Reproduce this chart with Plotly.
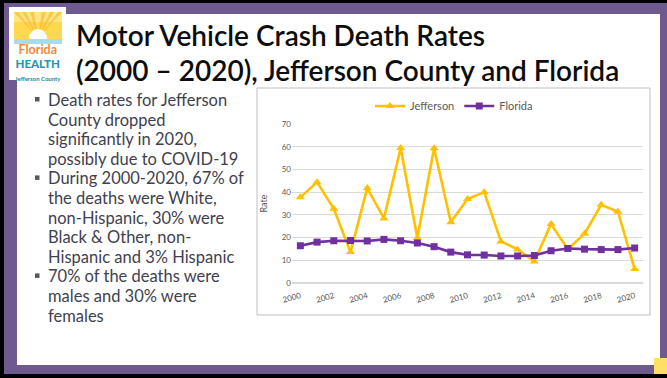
import plotly.graph_objects as go

years = list(range(2000, 2021))
jefferson = [37.7, 44.4, 32.7, 13.6, 41.8, 28.4, 59.4, 19.8, 59.3, 26.8, 37.0, 40.0,
             18.3, 14.8, 9.5, 26.0, 14.9, 21.7, 34.4, 31.4, 6.2]
florida = [16.4, 18.0, 18.6, 18.7, 18.5, 19.2, 18.6, 17.6, 16.0, 13.6, 12.4, 12.3,
           11.9, 11.9, 12.1, 14.2, 15.2, 14.9, 14.7, 14.7, 15.4]

title_lines = ["Motor Vehicle Crash Death Rates",
               "(2000 – 2020), Jefferson County and Florida"]
bullets = [
    ["Death rates for Jefferson", "County dropped", "significantly in 2020,",
     "possibly due to COVID-19"],
    ["During 2000-2020, 67% of", "the deaths were White,", "non-Hispanic, 30% were",
     "Black & Other, non-", "Hispanic and 3% Hispanic"],
    ["70% of the deaths were", "males and 30% were", "females"],
]

W, H = 667, 378
def px(x): return x / W
def py(y): return 1 - y / H

fig = go.Figure()
fig.add_trace(go.Scatter(x=years, y=jefferson, name="Jefferson", mode="lines+markers",
                         line=dict(color="#FFC000", width=2.6),
                         marker=dict(symbol="triangle-up", size=8, color="#FFC000"),
                         cliponaxis=False))
fig.add_trace(go.Scatter(x=years, y=florida, name="Florida", mode="lines+markers",
                         line=dict(color="#7030A0", width=2.6),
                         marker=dict(symbol="square", size=7, color="#7030A0"),
                         cliponaxis=False))

shapes = []
def rect(x0, y0, x1, y1, fill, line=None, lw=0, layer="below"):
    shapes.append(dict(type="rect", xref="paper", yref="paper",
                       x0=px(x0), x1=px(x1), y0=py(y1), y1=py(y0),
                       fillcolor=fill, line=dict(color=line or fill, width=lw), layer=layer))

rect(0, 0, 667, 378, "#000000")
rect(4, 3, 667, 374, "#6E5A8E")
rect(17, 14, 660, 365, "#FFFFFF")
rect(654, 358, 667, 374, "#FFE066")
# chart box
rect(257, 88, 650, 315, "#FFFFFF", line="#BFBFBF", lw=1)
# logo
rect(9, 7, 66, 80, "#FFFFFF")
rect(14, 12, 62, 40, "#FFD84D")
rect(14, 12, 62, 22, "#FFE680")
for dx in [-22, -14, -6, 6, 14, 22]:
    shapes.append(dict(type="path", xref="paper", yref="paper",
                       path=f"M {px(38)},{py(38)} L {px(38+dx-2)},{py(12)} L {px(38+dx+2)},{py(12)} Z",
                       fillcolor="#F9B233", line=dict(width=0), layer="below", opacity=0.6))
shapes.append(dict(type="circle", xref="paper", yref="paper",
                   x0=px(29), x1=px(47), y0=py(47), y1=py(29),
                   fillcolor="#FFFFFF", line=dict(width=0), layer="below"))
rect(14, 39, 62, 44, "#A8DCEB")

annotations = []
def text(x, y, s, size, color, family="Lato", weight=None, anchor="left", yanchor="middle"):
    f = dict(size=size, color=color, family=family)
    if weight:
        f["weight"] = weight
    annotations.append(dict(xref="paper", yref="paper", x=px(x), y=py(y), text=s,
                            showarrow=False, xanchor=anchor, yanchor=yanchor, font=f,
                            borderpad=0, borderwidth=0))

logo = ("<span style='color:#F08A3C;font-size:12.5px;font-weight:bold'>Florida</span><br>"
        "<span style='color:#1A9BAF;font-size:11.5px;font-weight:900'>HEALTH</span><br>"
        "<span style='color:#1A8A9F;font-size:6px;font-weight:bold'>Jefferson County</span>")
text(38, 62, logo, 10.5, "#1A9BAF", anchor="center")

text(76, 35, title_lines[0], 28, "#0D0D0D", weight=600)
text(76, 70, title_lines[1], 28, "#0D0D0D", weight=600)

yy = 100
for group in bullets:
    rect(35, yy - 3, 39.5, yy + 1.5, "#595959")
    for line in group:
        text(48, yy, line, 16.5, "#3F3F4F")
        yy += 19.6

fig.update_layout(
    width=W, height=H, margin=dict(l=0, r=0, t=0, b=0, autoexpand=False),
    paper_bgcolor="white", plot_bgcolor="rgba(0,0,0,0)",
    shapes=shapes, annotations=annotations,
    showlegend=True,
    legend=dict(orientation="h", x=px(454), y=py(106), xanchor="center", yanchor="middle",
                font=dict(family="Lato", size=11, color="#595959"),
                bgcolor="rgba(0,0,0,0)", itemwidth=30, tracegroupgap=0),
    xaxis=dict(domain=[px(292), px(643)], range=[1999.5, 2020.5], tickmode="linear",
               tick0=2000, dtick=2, tickangle=-15, showgrid=False, zeroline=False,
               showline=False, ticks="", automargin=False, ticklabelstandoff=6,
               tickfont=dict(family="Lato", size=8, color="#595959")),
    yaxis=dict(domain=[py(283), py(124)], range=[0, 70], dtick=10, showgrid=True,
               gridcolor="#D9D9D9", gridwidth=1, zeroline=True, zerolinecolor="#D9D9D9",
               showline=False, ticks="", automargin=False,
               tickfont=dict(family="Lato", size=8, color="#595959"),
               title=dict(text="Rate", font=dict(family="Lato", size=9, color="#595959"),
                          standoff=12)),
)

post = ("document.documentElement.style.margin='0';document.body.style.margin='0';"
        "document.body.style.overflow='hidden';document.documentElement.style.overflow='hidden';"
        "var d=document.getElementById('{plot_id}');d.style.position='fixed';"
        "d.style.left='0px';d.style.top='0px';")
fig.write_html("out.html", config={"displayModeBar": False}, post_script=post)
